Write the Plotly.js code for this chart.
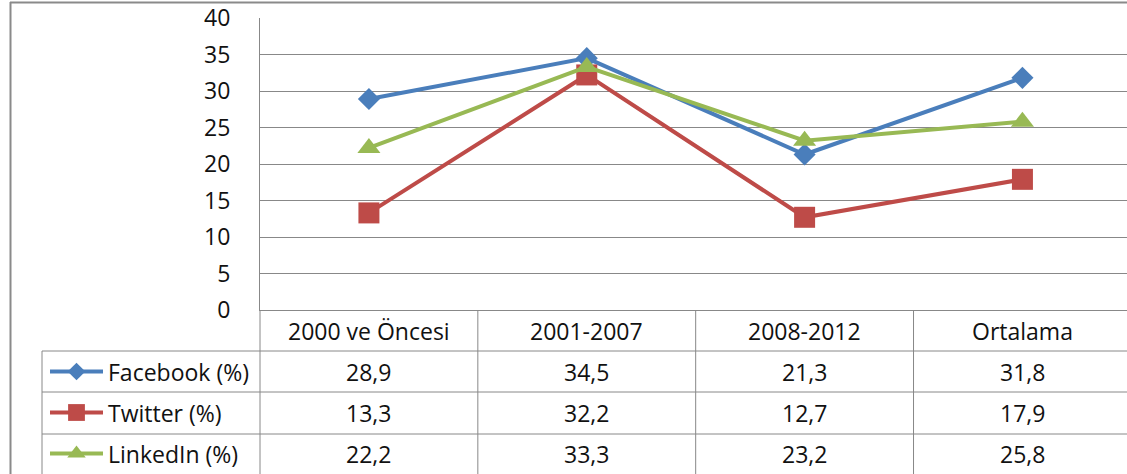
<!DOCTYPE html>
<html>
<head>
<meta charset="utf-8">
<script src="https://cdn.plot.ly/plotly-3.0.1.min.js"></script>
<style>html,body{margin:0;padding:0;background:#fff;}#chart{width:1127px;height:474px;}</style>
</head>
<body>
<div id="chart"></div>
<script>
// ---- data ----
const categories = ["2000 ve Öncesi", "2001-2007", "2008-2012", "Ortalama"];
const seriesNames = ["Facebook (%)", "Twitter (%)", "LinkedIn (%)"];
const facebook = [28.9, 34.5, 21.3, 31.8];
const twitter = [13.3, 32.2, 12.7, 17.9];
const linkedin = [22.2, 33.3, 23.2, 25.8];
const yTicks = [0, 5, 10, 15, 20, 25, 30, 35, 40];

// ---- styling ----
const W = 1127, H = 474;
const colors = ["#4A7EBB", "#BE4B48", "#98B954"];
const symbols = ["diamond", "square", "triangle-up"];
const msizes = [17, 21, 20];
const gridC = "#888888";
const FONT = "Open Sans";
const px = v => v / W;            // px -> paper x
const py = v => (H - v) / H;      // px -> paper y (from top)

const plotL = 260, plotT = 18, plotB = 310;
const headerB = 351, rowH = 41;
const allSeries = [facebook, twitter, linkedin];
const idx = categories.map((c, i) => i);

const traces = allSeries.map((s, k) => ({
  type: "scatter", mode: "lines+markers",
  x: idx, y: s, name: seriesNames[k],
  line: {color: colors[k], width: 4},
  marker: {symbol: symbols[k], size: msizes[k], color: colors[k], opacity: 1, line: {width: 0}},
  xaxis: "x", yaxis: "y", hoverinfo: "skip", showlegend: false
}));
// legend keys inside the data table (in a helper axis)
allSeries.forEach((s, k) => {
  traces.push({
    type: "scatter", mode: "lines",
    x: [50, 103], y: [k, k],
    line: {color: colors[k], width: 4},
    xaxis: "x2", yaxis: "y2", hoverinfo: "skip", showlegend: false, cliponaxis: false
  });
  traces.push({
    type: "scatter", mode: "markers",
    x: [76.5], y: [k],
    marker: {symbol: symbols[k], size: msizes[k] * 0.8, color: colors[k], opacity: 1, line: {width: 0}},
    xaxis: "x2", yaxis: "y2", hoverinfo: "skip", showlegend: false, cliponaxis: false
  });
});

const shapes = [];
const annotations = [];
const line = (x0, y0, x1, y1, c, w, xref) => shapes.push({
  type: "line", xref: xref || "paper", yref: "paper",
  x0: x0, y0: y0, x1: x1, y1: y1, line: {color: c, width: w}
});
// outer frame
line(px(10.5), py(2), px(10.5), py(H), "#8a8a8a", 2);
line(px(10), py(2.5), px(W), py(2.5), "#8a8a8a", 2);
// table horizontal lines
[headerB, headerB + rowH, headerB + 2 * rowH + 1].forEach(y => line(px(42), py(y), px(W), py(y), gridC, 1));
// table vertical lines
line(px(42), py(headerB), px(42), py(H), gridC, 1);
line(px(plotL), py(plotB), px(plotL), py(H), gridC, 1);
[0.5, 1.5, 2.5].forEach(x => line(x, py(plotB), x, py(H), gridC, 1, "x"));

const tfont = {family: FONT, size: 23, color: "#111"};
categories.forEach((c, i) => annotations.push({
  xref: "x", yref: "paper", x: i, y: py((plotB + headerB) / 2), text: c,
  showarrow: false, xanchor: "center", yanchor: "middle", font: tfont
}));
allSeries.forEach((s, k) => {
  const yc = py(headerB + rowH * k + rowH / 2);
  annotations.push({
    xref: "paper", yref: "paper", x: px(106), y: yc, text: seriesNames[k],
    showarrow: false, xanchor: "left", yanchor: "middle", font: tfont
  });
  s.forEach((v, i) => annotations.push({
    xref: "x", yref: "paper", x: i, y: yc, text: v.toFixed(1).replace(".", ","),
    showarrow: false, xanchor: "center", yanchor: "middle", font: tfont
  }));
});

const layout = {
  width: W, height: H,
  margin: {l: 0, r: 0, t: 0, b: 0},
  paper_bgcolor: "#fff", plot_bgcolor: "#fff",
  showlegend: false,
  xaxis: {
    domain: [px(plotL), 1], range: [-0.5, 3.48],
    showticklabels: false, showgrid: false, zeroline: false,
    showline: true, linecolor: gridC, linewidth: 1, ticks: "", fixedrange: true
  },
  yaxis: {
    domain: [py(plotB), py(plotT)], range: [0, 40],
    tickvals: yTicks, ticktext: yTicks.map(String),
    showgrid: true, gridcolor: gridC, gridwidth: 1, zeroline: false,
    showline: true, linecolor: gridC, linewidth: 1, ticks: "",
    ticklabelstandoff: 24,
    tickfont: {family: FONT, size: 23, color: "#111"}, fixedrange: true
  },
  xaxis2: {domain: [px(42), px(plotL)], range: [42, 260], visible: false, fixedrange: true, anchor: "y2"},
  yaxis2: {domain: [0, py(headerB)], range: [(H - headerB) / rowH - 0.5, -0.5], visible: false, fixedrange: true, anchor: "x2"},
  shapes: shapes,
  annotations: annotations
};

Plotly.newPlot("chart", traces, layout, {displayModeBar: false, staticPlot: true});
</script>
</body>
</html>
